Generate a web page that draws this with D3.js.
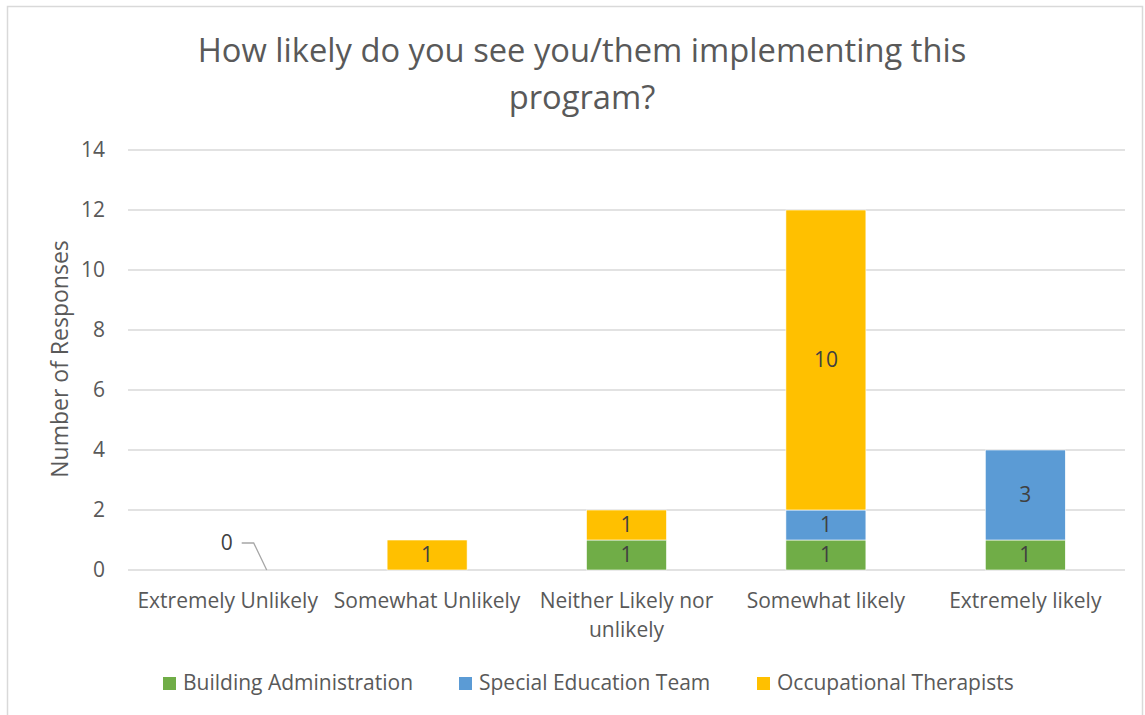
<!DOCTYPE html>
<html>
<head>
<meta charset="utf-8">
<script src="https://cdn.jsdelivr.net/npm/d3@7/dist/d3.min.js"></script>
<style>
  html, body { margin: 0; padding: 0; background: #fff; }
  svg { display: block; font-family: "Open Sans", sans-serif; }
</style>
</head>
<body>
<svg id="chart" width="1145" height="715"></svg>
<script>
// Survey responses by likelihood, stacked by respondent group
const categories = ["Extremely Unlikely", "Somewhat Unlikely", "Neither Likely nor unlikely", "Somewhat likely", "Extremely likely"];
const seriesNames = ["Building Administration", "Special Education Team", "Occupational Therapists"];
const buildingAdmin = [0, 0, 1, 1, 1];
const specialEdTeam = [0, 0, 0, 1, 3];
const occTherapists = [0, 1, 1, 10, 0];
const yTicks = [0, 2, 4, 6, 8, 10, 12, 14];
const titleLines = ["How likely do you see you/them implementing this", "program?"];
const yAxisTitle = "Number of Responses";
const colors = ["#70AD47", "#5B9BD5", "#FFC000"];

const svg = d3.select("#chart");
const margin = { left: 128, top: 150 };
const plotW = 1125 - margin.left;
const fs = 21;

// chart frame
svg.append("rect").attr("x", 7.5).attr("y", 6.5).attr("width", 1135).attr("height", 720)
  .attr("fill", "#fff").attr("stroke", "#d9d9d9").attr("stroke-width", 1.5);

const x = d3.scaleBand().domain(categories).range([margin.left, margin.left + plotW]).paddingInner(0.6).paddingOuter(0.3);
const y = d3.scaleLinear().domain([0, 14]).range([570, 150]);

// gridlines
svg.append("g").selectAll("line").data(yTicks).join("line")
  .attr("x1", margin.left).attr("x2", margin.left + plotW)
  .attr("y1", d => y(d)).attr("y2", d => y(d))
  .attr("stroke", "#d9d9d9").attr("stroke-width", 1.3);

// y tick labels
svg.append("g").selectAll("text").data(yTicks).join("text")
  .attr("x", 105).attr("y", d => y(d)).attr("dy", "0.35em")
  .attr("text-anchor", "end").attr("font-size", fs).attr("fill", "#595959")
  .text(d => d);

// stacked data
const rows = categories.map((c, i) => ({ cat: c, s0: buildingAdmin[i], s1: specialEdTeam[i], s2: occTherapists[i] }));
const stack = d3.stack().keys(["s0", "s1", "s2"])(rows);

const band = x.bandwidth();
const barW = 80;
const layers = svg.append("g").selectAll("g").data(stack).join("g")
  .attr("fill", (d, i) => colors[i]);

layers.selectAll("rect").data(d => d.filter(p => p[1] - p[0] > 0)).join("rect")
  .attr("x", d => x(d.data.cat) + band / 2 - barW / 2)
  .attr("width", barW)
  .attr("y", d => y(d[1]))
  .attr("height", d => y(d[0]) - y(d[1]))
  .attr("stroke", "#fff").attr("stroke-width", 0.6);

// value labels inside segments
layers.selectAll("text").data(d => d.filter(p => p[1] - p[0] > 0)).join("text")
  .attr("x", d => x(d.data.cat) + band / 2)
  .attr("y", d => (y(d[0]) + y(d[1])) / 2)
  .attr("dy", "0.35em").attr("text-anchor", "middle")
  .attr("font-size", fs).attr("fill", "#404040")
  .text(d => d[1] - d[0]);

// zero-value label with leader line for the first category
const zeroCat = categories[0];
const zeroVal = occTherapists[0];
const cx0 = x(zeroCat) + band / 2;
svg.append("path")
  .attr("d", `M${cx0 + 14},${y(zeroVal) - 27} L${cx0 + 26},${y(zeroVal) - 27} L${cx0 + barW / 2 - 1},${y(zeroVal)}`)
  .attr("fill", "none").attr("stroke", "#a6a6a6").attr("stroke-width", 1.3);
svg.append("text").attr("x", cx0 + 5).attr("y", y(zeroVal) - 27).attr("dy", "0.35em")
  .attr("text-anchor", "end").attr("font-size", fs).attr("fill", "#404040").text(zeroVal);

// category labels, wrapped
const catG = svg.append("g");
categories.forEach(c => {
  const words = c.split(" ");
  const lines = [];
  let cur = "";
  const probe = catG.append("text").attr("font-size", fs);
  words.forEach(w => {
    const t = cur ? cur + " " + w : w;
    probe.text(t);
    if (probe.node().getComputedTextLength() > 192 && cur) { lines.push(cur); cur = w; }
    else cur = t;
  });
  lines.push(cur);
  probe.remove();
  const t = catG.append("text").attr("text-anchor", "middle").attr("font-size", fs).attr("fill", "#595959");
  lines.forEach((l, i) => t.append("tspan").attr("x", x(c) + band / 2).attr("y", 608 + i * 29).text(l));
});

// y axis title
svg.append("text").attr("transform", `translate(68,359) rotate(-90)`)
  .attr("text-anchor", "middle").attr("font-size", 23).attr("fill", "#595959").text(yAxisTitle);

// chart title
const title = svg.append("text").attr("text-anchor", "middle").attr("font-size", 32.7).attr("fill", "#595959");
titleLines.forEach((l, i) => title.append("tspan").attr("x", 582).attr("y", 62 + i * 47).text(l));

// legend
const legendX = [163, 459, 757];
const legend = svg.append("g").selectAll("g").data(seriesNames).join("g")
  .attr("transform", (d, i) => `translate(${legendX[i]},683)`);
legend.append("rect").attr("x", 0).attr("y", -6).attr("width", 13).attr("height", 13).attr("fill", (d, i) => colors[i]);
legend.append("text").attr("x", 20).attr("y", 0).attr("dy", "0.35em")
  .attr("font-size", fs).attr("fill", "#595959").text(d => d);
</script>
</body>
</html>
